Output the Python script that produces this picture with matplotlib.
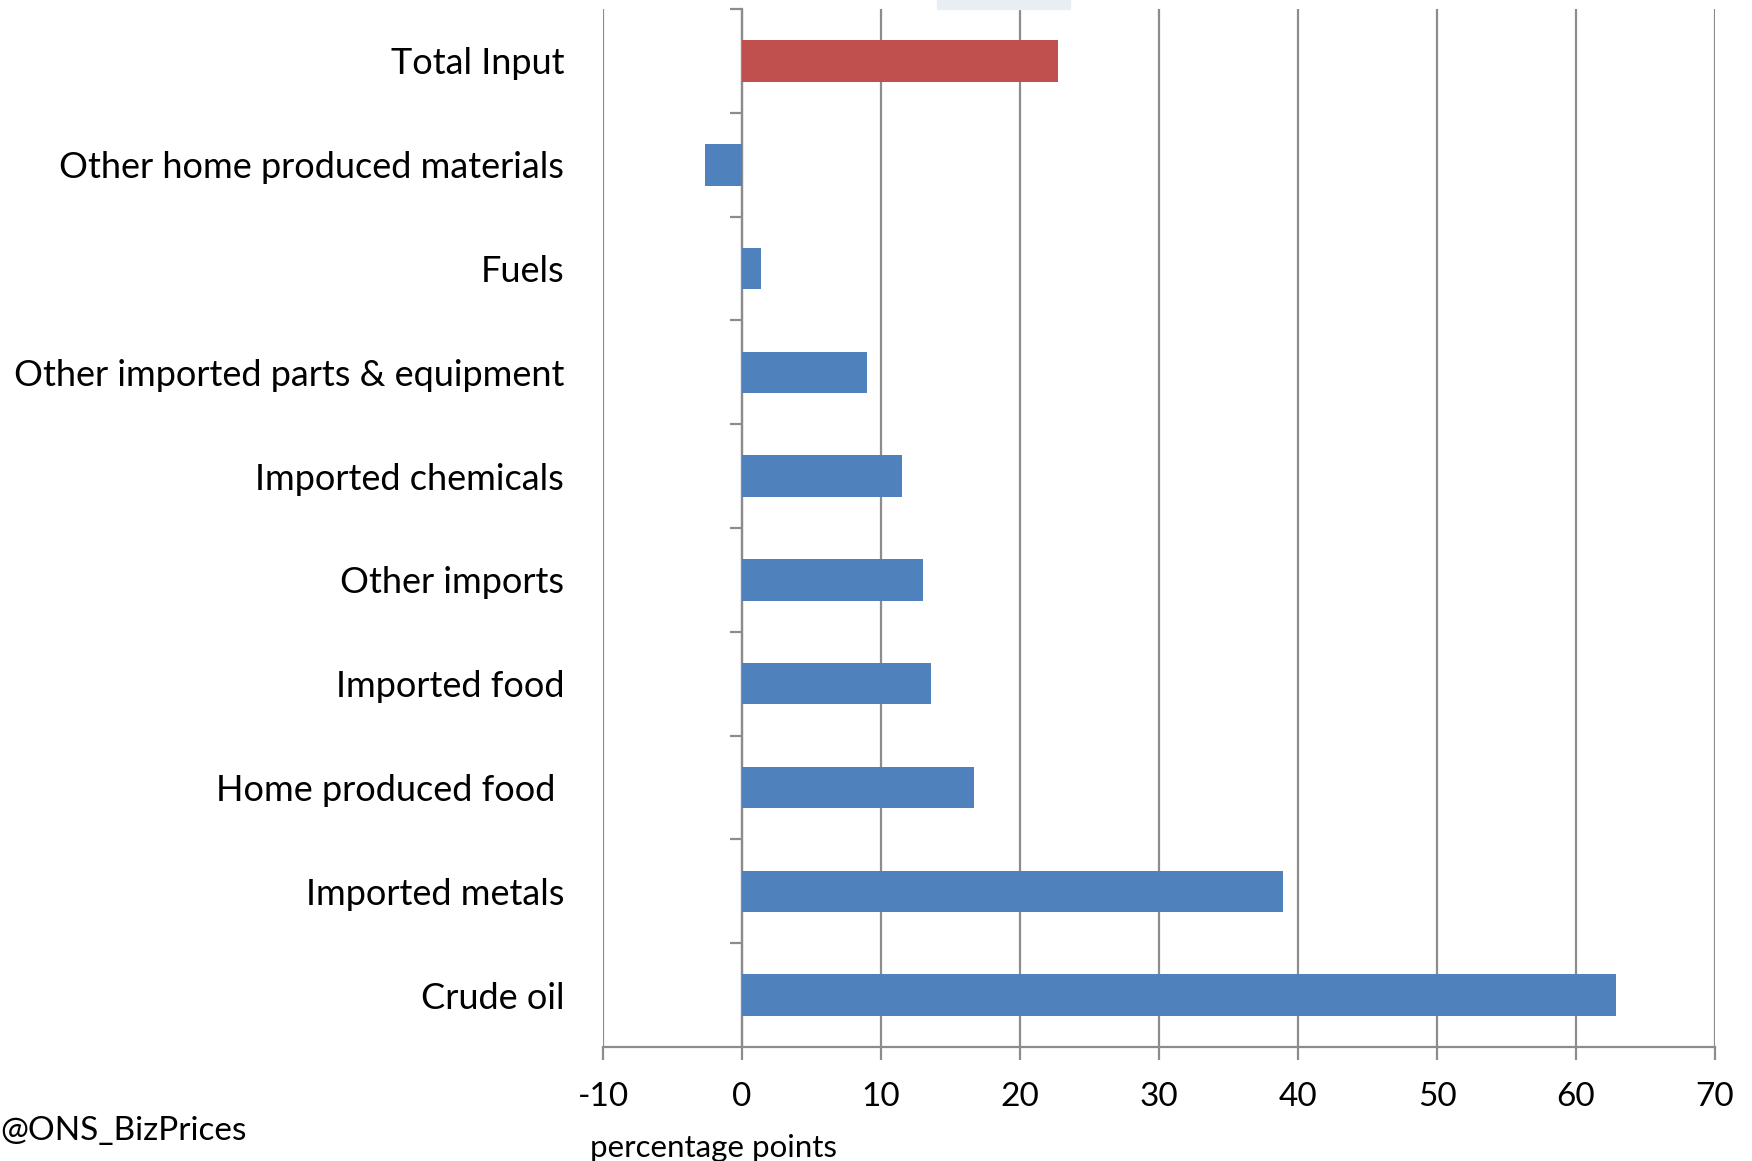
import matplotlib
matplotlib.use("Agg")
import numpy as np
from matplotlib import pyplot as plt
from matplotlib.patches import Rectangle

plt.rcParams['font.family'] = ['Lato', 'DejaVu Sans']

# contributions to input price growth, top to bottom
categories = ['Total Input', 'Other home produced materials', 'Fuels',
              'Other imported parts & equipment', 'Imported chemicals',
              'Other imports', 'Imported food', 'Home produced food ',
              'Imported metals', 'Crude oil']
values = [22.7, -2.7, 1.4, 9.0, 11.5, 13.0, 13.6, 16.7, 38.9, 62.9]
colours = ['#C0504D'] + ['#4F81BD'] * 9
xticks = [-10, 0, 10, 20, 30, 40, 50, 60, 70]

grey = '#8c8c8c'

fig = plt.figure(figsize=(17.52, 11.61), dpi=100)
ax = fig.add_axes([0.3442, 0.0982, 0.6347, 0.894])

ypos = np.arange(len(categories))
ax.barh(ypos, values, height=0.4, color=colours, zorder=3)

ax.set_ylim(len(categories) - 0.5, -0.5)
ax.set_xlim(-10, 70)
ax.set_xticks(xticks)
ax.set_xticklabels([str(t) for t in xticks])
ax.set_yticks(ypos)
ax.set_yticklabels(categories)

ax.grid(axis='x', color=grey, linewidth=1.6, zorder=0)
for side in ['top', 'right', 'left']:
    ax.spines[side].set_visible(False)
ax.spines['bottom'].set_color(grey)
ax.spines['bottom'].set_linewidth(1.6)

ax.tick_params(axis='x', length=9, width=1.6, color=grey, labelsize=24, pad=16)
ax.tick_params(axis='y', length=0, labelsize=26, pad=28)

# zero line with category dividers
zero = ax.secondary_yaxis(0.125)
zero.set_yticks(np.arange(len(categories)) - 0.5)
zero.set_yticklabels([])
zero.tick_params(length=9, width=1.6, color=grey)
zero.spines['left'].set_color(grey)
zero.spines['left'].set_linewidth(1.6)
zero.spines['left'].set_zorder(4)

fig.text(0.3368, 0.0115, 'percentage points', fontsize=22.5, ha='left', va='center')
fig.text(0.0, 0.026, '@ONS_BizPrices', fontsize=24, ha='left', va='center')

fig.patches.append(Rectangle((0.535, 0.992), 0.076, 0.008, transform=fig.transFigure,
                             color='#e9eef4', zorder=0))

fig.savefig('out.png', dpi=100)
